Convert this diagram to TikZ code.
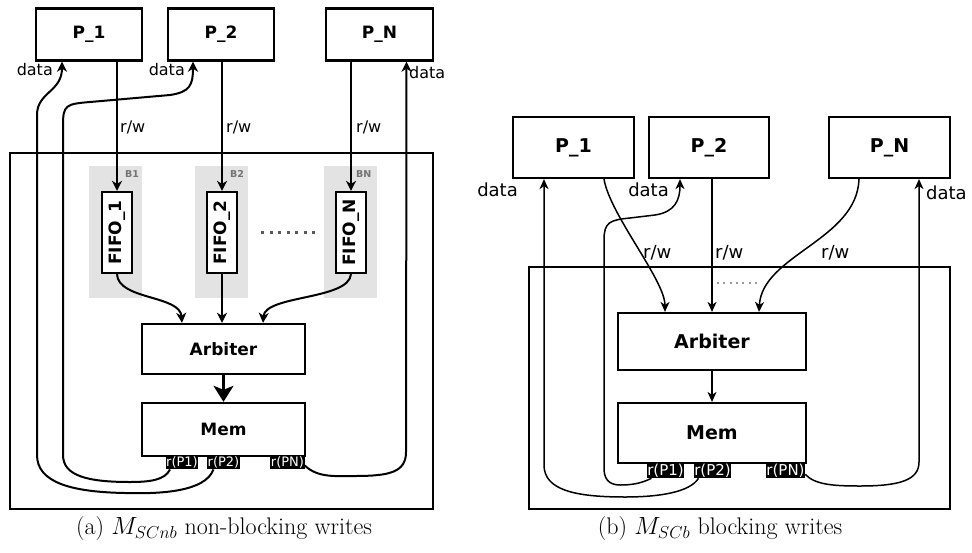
\documentclass[tikz,border=0pt]{standalone}
\usepackage{fontspec}
\usepackage{graphicx}
\newfontfamily\dv{DejaVu Sans}
\usetikzlibrary{arrows.meta}
\newcommand\setfs[1]{\fontsize{#1}{#1}\selectfont}
\begin{document}
\begin{tikzpicture}[x=1pt,y=-1pt,
  boxA/.style={draw, line width=2.4pt, fill=white, inner sep=0pt, font=\dv\bfseries\setfs{17}},
  boxB/.style={draw, line width=2.2pt, fill=white, inner sep=0pt, font=\dv\bfseries\setfs{19}},
  frameA/.style={draw, line width=2.4pt, inner sep=0pt},
  frameB/.style={draw, line width=2.4pt, inner sep=0pt},
  band/.style={fill=black!11, inner sep=0pt, minimum width=53pt, minimum height=132pt},
  blab/.style={text=black!55, font=\dv\bfseries\setfs{9.5}, inner sep=0pt},
  fifo/.style={draw, line width=2.2pt, fill=white, inner sep=0pt, minimum width=30pt, minimum height=81pt, font=\dv\bfseries\setfs{17}},
  labA/.style={font=\dv\setfs{16}, inner sep=1pt},
  labB/.style={font=\dv\setfs{18}, inner sep=1pt},
  tagA/.style={fill=black, text=white, font=\dv\setfs{13}, inner xsep=0.5pt, inner ysep=1pt},
  tagB/.style={fill=black, text=white, font=\dv\setfs{15}, inner xsep=0.5pt, inner ysep=1pt},
  arrA/.style={line width=2pt, -{Stealth[length=10pt,width=10pt,inset=3pt]}},
  bigarrA/.style={line width=2.4pt, -{Stealth[length=16pt,width=20pt,inset=4pt]}},
  arrB/.style={line width=1.5pt, -{Stealth[length=10pt,width=9pt,inset=3pt]}},
  capt/.style={font=\setfs{24}, inner sep=0pt}
]
\path[use as bounding box] (0,0) rectangle (972,552);

% ---------- (a) non-blocking writes ----------
\node[frameA, minimum width=423pt, minimum height=356pt] (sysA) at (221.5,331) {};

\node[boxA, minimum width=106pt, minimum height=52pt] (P1A) at (89,34.5) {P\_1};
\node[boxA, minimum width=106pt, minimum height=52pt] (P2A) at (221,34.5) {P\_2};
\node[boxA, minimum width=107pt, minimum height=52pt] (PNA) at (379.5,34.5) {P\_N};

% buffer regions
\node[band] (bandA1) at (115,232) {};
\node[band] (bandA2) at (221,232) {};
\node[band] (bandAN) at (350.5,232) {};
\node[blab, anchor=west] (bl1) at (125,174) {B1};
\node[blab, anchor=west] (bl2) at (230,174) {B2};
\node[blab, anchor=west] (blN) at (356,174) {BN};

\node[fifo] (F1) at (117,232.5) {\rotatebox{90}{FIFO\_1}};
\node[fifo] (F2) at (222,232.5) {\rotatebox{90}{FIFO\_2}};
\node[fifo] (FN) at (351,232.5) {\rotatebox{90}{FIFO\_N}};
\draw[line width=3pt, black!65, dash pattern=on 3pt off 5.5pt] (261,232) -- (315,232);

\node[boxA, minimum width=163pt, minimum height=50pt] (ArbA) at (223.5,349) {Arbiter};
\node[boxA, minimum width=163pt, minimum height=53pt] (MemA) at (223.5,429.5) {Mem};

\node[tagA, anchor=north] (tA1) at (182,455.5) {r(P1)};
\node[tagA, anchor=north] (tA2) at (223.5,455.5) {r(P2)};
\node[tagA, anchor=north] (tAN) at (287.5,455.5) {r(PN)};

% read/write requests into the FIFOs
\draw[arrA] (F1.north |- P1A.south) -- (F1.north);
\draw[arrA] (F2.north |- P2A.south) -- (F2.north);
\draw[arrA] (FN.north |- PNA.south) -- (FN.north);
\node[labA, anchor=west] (rwA1) at (119,127) {r/w};
\node[labA, anchor=west] (rwA2) at (225,127) {r/w};
\node[labA, anchor=west] (rwAN) at (355,127) {r/w};

% FIFOs drain into the arbiter
\draw[arrA] (F1.south) .. controls (118,300) and (180,295) .. ([xshift=-41.5pt]ArbA.north);
\draw[arrA] (F2.south) -- (F2.south |- ArbA.north);
\draw[arrA] (FN.south) .. controls (349,300) and (265,295) .. ([xshift=39.5pt]ArbA.north);
\draw[bigarrA] (ArbA.south) -- (MemA.north);

% read data returned to the processors
\draw[arrA] ([xshift=-10pt]tA2.south) .. controls (205,492) and (160,494) .. (125,493)
  .. controls (70,492) and (37,482) .. (37,455) -- (37,115)
  .. controls (37,92) and (62,92) .. ([xshift=-27pt]P1A.south);
\draw[arrA] ([xshift=-12pt]tA1.south) .. controls (165,480) and (150,482) .. (130,482)
  .. controls (88,482) and (63,476) .. (63,455) -- (63,125)
  .. controls (63,105) and (66,104) .. (90,102) -- (170,95)
  .. controls (190,92) and (193,85) .. ([xshift=-28pt]P2A.south);
\draw[arrA] ([yshift=-3pt]tAN.east) .. controls (318,478) and (335,476) .. (355,476)
  .. controls (390,476) and (406,472) .. (406,452) -- ([xshift=27pt]PNA.south);
\node[labA, anchor=east] (dA1) at (54,70) {data};
\node[labA, anchor=east] (dA2) at (186,70) {data};
\node[labA, anchor=west] (dAN) at (408,73) {data};

\node[capt] (capA) at (224,529) {(a) $M_{SCnb}$ non-blocking writes};

% ---------- (b) blocking writes ----------
\node[frameB, minimum width=421pt, minimum height=242pt] (sysB) at (739.5,388) {};

\node[boxB, minimum width=121pt, minimum height=61pt] (P1B) at (573.5,147.5) {P\_1};
\node[boxB, minimum width=120pt, minimum height=61pt] (P2B) at (709,147.5) {P\_2};
\node[boxB, minimum width=121pt, minimum height=61pt] (PNB) at (889.5,147.5) {P\_N};

\draw[line width=2pt, black!40, dash pattern=on 2pt off 4.3pt] (717,283) -- (759,283);

\node[boxB, minimum width=188pt, minimum height=57pt] (ArbB) at (712,341.5) {Arbiter};
\node[boxB, minimum width=188pt, minimum height=60pt] (MemB) at (712,433) {Mem};

\node[tagB, anchor=north] (tB1) at (665.5,462.5) {r(P1)};
\node[tagB, anchor=north] (tB2) at (712.5,462.5) {r(P2)};
\node[tagB, anchor=north] (tBN) at (785.5,462.5) {r(PN)};

% read/write requests straight into the arbiter
\draw[arrB] ([xshift=30.5pt]P1B.south) .. controls (610,215) and (665,280) .. ([xshift=-47pt]ArbB.north);
\draw[arrB] (ArbB.north |- P2B.south) -- (ArbB.north);
\draw[arrB] ([xshift=-30.5pt]PNB.south) .. controls (857,240) and (762,255) .. ([xshift=47pt]ArbB.north);
\node[labB, anchor=west] (rwB1) at (642,253) {r/w};
\node[labB, anchor=west] (rwB2) at (714,253) {r/w};
\node[labB, anchor=west] (rwBN) at (820,253) {r/w};
\draw[arrB] (ArbB.south) -- (MemB.north);

% read data returned to the processors
\draw[arrB] ([xshift=-14pt]tB2.south) .. controls (690,492) and (660,497) .. (625,497)
  .. controls (575,497) and (544,490) .. (544,465) -- ([xshift=-29.5pt]P1B.south);
\draw[arrB] ([xshift=-14pt]tB1.south) .. controls (640,484) and (630,485) .. (620,485)
  .. controls (608,485) and (604,478) .. (604,468) -- (604,240)
  .. controls (604,222) and (610,220) .. (630,218) -- (655,215)
  .. controls (675,212) and (680,200) .. ([xshift=-29pt]P2B.south);
\draw[arrB] ([yshift=-4pt]tBN.east) .. controls (815,485) and (835,486) .. (860,486)
  .. controls (900,486) and (919,480) .. (919,462) -- ([xshift=29.5pt]PNB.south);
\node[labB, anchor=east] (dB1) at (519,190) {data};
\node[labB, anchor=east] (dB2) at (670,190) {data};
\node[labB, anchor=west] (dBN) at (925,193) {data};

\node[capt] (capB) at (720,529) {(b) $M_{SCb}$ blocking writes};
\end{tikzpicture}
\end{document}
